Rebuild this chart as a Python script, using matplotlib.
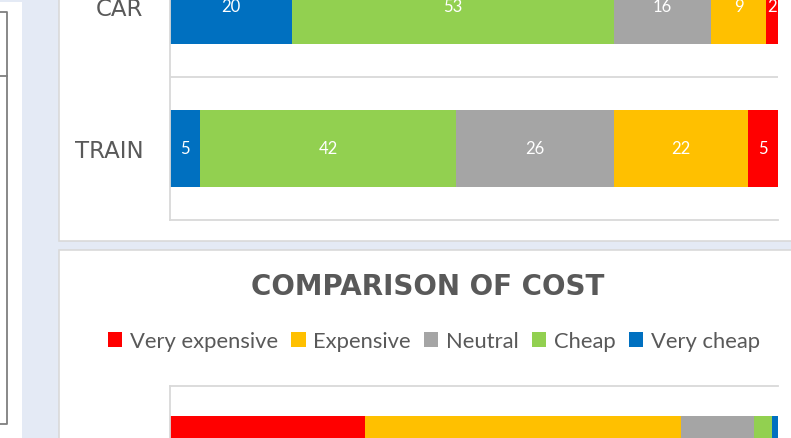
import matplotlib
matplotlib.use('Agg')
import matplotlib.pyplot as plt
from matplotlib.patches import Rectangle, Patch
from matplotlib.lines import Line2D

plt.rcParams['font.family'] = ['Lato', 'DejaVu Sans']

# data (percent of answers)
modes = ['TRAIN', 'CAR']
very_cheap = [5, 20]
cheap = [42, 53]
neutral = [26, 16]
expensive = [22, 9]
very_expensive = [5, 2]

cost_levels = ['Very expensive', 'Expensive', 'Neutral', 'Cheap', 'Very cheap']
cost_values = [32, 52, 12, 3, 1]

colors = {'Very expensive': '#FF0000', 'Expensive': '#FFC000', 'Neutral': '#A5A5A5',
          'Cheap': '#92D050', 'Very cheap': '#0070C0'}
text_grey = '#595959'
line_grey = '#D9D9D9'
page_blue = '#E4EAF5'

W, H = 791, 439
fig = plt.figure(figsize=(W / 100, H / 100), dpi=100)
fig.patch.set_facecolor(page_blue)


def fx(x):
    return x / W


def fy(y):
    return 1 - y / H


def box(x0, y0, x1, y1, fc, ec='none', lw=0):
    fig.add_artist(Rectangle((fx(x0), fy(y1)), fx(x1) - fx(x0), fy(y0) - fy(y1),
                             transform=fig.transFigure, facecolor=fc, edgecolor=ec,
                             linewidth=lw, zorder=-5))


def seg(xs, ys, color, lw):
    fig.add_artist(Line2D([fx(x) for x in xs], [fy(y) for y in ys], transform=fig.transFigure,
                          color=color, linewidth=lw, zorder=-4))


# page background bits
box(0, 3, 22, 445, 'white')
seg([0, 7, 7, 0], [13, 13, 425, 425], '#7F7F7F', 1.3)
seg([0, 7], [77, 77], '#7F7F7F', 1.3)
box(59, -10, 810, 242, 'white', line_grey, 1.2)
box(59, 251, 810, 450, 'white', line_grey, 1.2)

# top chart: cost per mode
ax1 = fig.add_axes([fx(170), fy(221), 608 / W, 286 / H])
ax1.set_facecolor('none')
left = [0] * len(modes)
for name, vals in [('Very cheap', very_cheap), ('Cheap', cheap), ('Neutral', neutral),
                   ('Expensive', expensive), ('Very expensive', very_expensive)]:
    bars = ax1.barh(modes, vals, left=left, height=0.545, color=colors[name], linewidth=0)
    ax1.bar_label(bars, labels=[str(v) for v in vals], label_type='center',
                  color='white', fontsize=12)
    left = [l + v for l, v in zip(left, vals)]
ax1.set_xlim(0, 100)
ax1.set_ylim(-0.5, 1.5)
ax1.axhline(0.5, color=line_grey, linewidth=1.3)
ax1.set_xticks([])
ax1.set_yticks(range(len(modes)))
ax1.set_yticklabels(modes, family='DejaVu Sans', fontsize=16.5, color=text_grey)
ax1.tick_params(axis='y', length=0, pad=19)
for s in ['top', 'right']:
    ax1.spines[s].set_visible(False)
for s in ['left', 'bottom']:
    ax1.spines[s].set_color(line_grey)
    ax1.spines[s].set_linewidth(1.3)

# bottom chart: comparison of cost
fig.text(fx(428), fy(287), 'COMPARISON OF COST', ha='center', va='center',
         fontsize=20, fontweight='bold', color=text_grey, family='DejaVu Sans')
handles = [Patch(facecolor=colors[c], edgecolor='none') for c in cost_levels]
fig.legend(handles, cost_levels, loc='center', bbox_to_anchor=(fx(434), fy(342)),
           ncol=5, frameon=False, fontsize=15.8, labelcolor=text_grey,
           handlelength=0.65, handleheight=0.65, handletextpad=0.35, columnspacing=0.6)

ax2 = fig.add_axes([fx(170), fy(530), 608 / W, 143 / H])
ax2.set_facecolor('none')
start = 0
for name, v in zip(cost_levels, cost_values):
    ax2.barh([0], [v], left=[start], height=0.58, color=colors[name], linewidth=0)
    start += v
ax2.set_xlim(0, 100)
ax2.set_ylim(-0.5, 0.5)
ax2.set_xticks([])
ax2.set_yticks([])
for s in ['bottom', 'right']:
    ax2.spines[s].set_visible(False)
for s in ['left', 'top']:
    ax2.spines[s].set_color(line_grey)
    ax2.spines[s].set_linewidth(1.3)

fig.savefig('out.png', dpi=100, facecolor=fig.get_facecolor())
